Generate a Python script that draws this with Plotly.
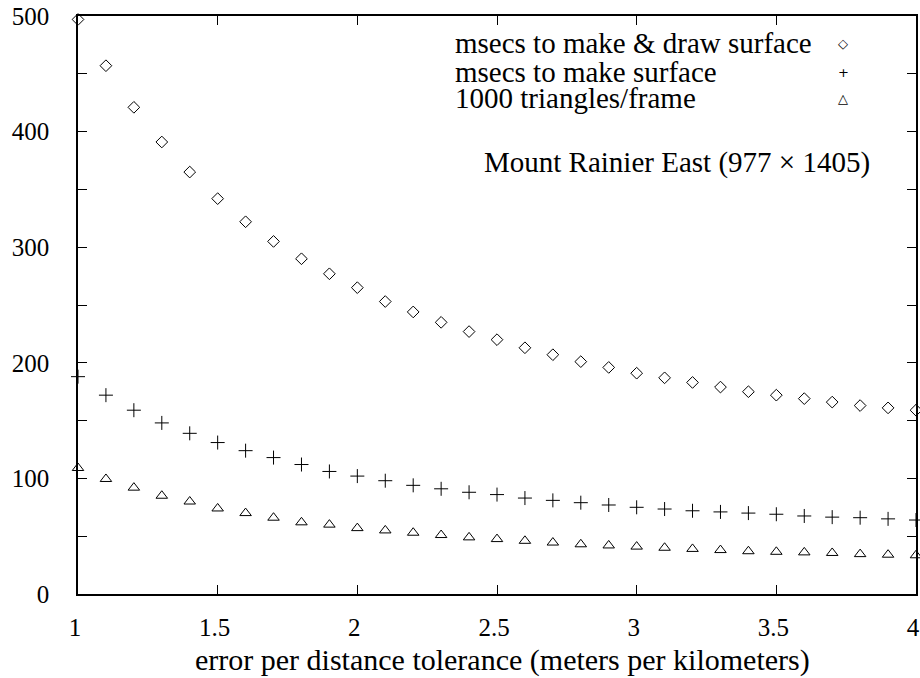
import plotly.graph_objects as go

x_vals = [round(1 + 0.1 * i, 1) for i in range(31)]

draw_surface = [497, 457, 421, 391, 365, 342, 322, 305, 290, 277, 265, 253, 244, 235, 227,
                220, 213, 207, 201, 196, 191, 187, 183, 179, 175, 172, 169, 166, 163, 161, 159]
make_surface = [188, 172, 159, 148, 139, 131, 124, 118, 112, 106, 102, 98, 94, 91, 88,
                86, 83, 81, 79, 77, 75, 73.5, 72, 71, 70, 69, 67.5, 66.5, 66, 65, 64]
triangles = [109, 99.5, 92, 85, 80, 74, 70, 66, 62, 60, 57, 55, 53, 51, 49,
             47.5, 46, 44.5, 43, 42, 41, 40, 39, 38, 37, 36.5, 36, 35.5, 34.5, 34, 33.5]

series_names = ["msecs to make & draw surface", "msecs to make surface", "1000 triangles/frame"]
series_symbols = ["diamond-open", "cross-thin-open", "triangle-up-open"]
legend_glyphs = ["◇", "+", "△"]
x_ticks = [1, 1.5, 2, 2.5, 3, 3.5, 4]
x_tick_labels = ["1", "1.5", "2", "2.5", "3", "3.5", "4"]
y_ticks = [0, 100, 200, 300, 400, 500]
y_tick_labels = ["0", "100", "200", "300", "400", "500"]

FONT = "Liberation Serif"
TICK_FS = 25
TEXT_FS = 29
TITLE_FS = 30

fig = go.Figure()
sizes = [9, 10, 10]
for name, ys, sym, sz in zip(series_names, [draw_surface, make_surface, triangles], series_symbols, sizes):
    fig.add_trace(go.Scatter(
        x=x_vals, y=ys, mode="markers", name=name, showlegend=False, cliponaxis=False,
        marker=dict(symbol=sym, size=sz, color="black", line=dict(color="black", width=1)),
    ))

legend_y = [0.953, 0.903, 0.858]
for name, glyph, yy in zip(series_names, legend_glyphs, legend_y):
    fig.add_annotation(text=name, xref="paper", yref="paper", x=0.4475, y=yy,
                       xanchor="left", yanchor="middle", showarrow=False,
                       font=dict(family=FONT, size=TEXT_FS, color="black"))
    fig.add_annotation(text=glyph, xref="paper", yref="paper", x=0.913, y=yy,
                       xanchor="center", yanchor="middle", showarrow=False,
                       font=dict(family="DejaVu Sans", size=13, color="black"))

fig.add_annotation(text="Mount Rainier East (977 × 1405)", xref="paper", yref="paper",
                   x=0.948, y=0.746, xanchor="right", yanchor="middle", showarrow=False,
                   font=dict(family=FONT, size=TEXT_FS, color="black"))

fig.add_annotation(text="error per distance tolerance (meters per kilometers)",
                   xref="paper", yref="paper", x=0.507, y=-0.114,
                   xanchor="center", yanchor="middle", showarrow=False,
                   font=dict(family=FONT, size=TITLE_FS, color="black"))

fig.update_layout(
    width=920, height=678,
    margin=dict(l=78, r=4, t=16, b=84, autoexpand=False),
    paper_bgcolor="white", plot_bgcolor="white",
    font=dict(family=FONT, size=TICK_FS, color="black"),
    showlegend=False,
)
fig.update_xaxes(
    range=[1, 4], tickvals=x_ticks, ticktext=x_tick_labels, automargin=False,
    showgrid=False, zeroline=False, showline=True, linecolor="black", linewidth=1.5,
    mirror="ticks", ticks="inside", ticklen=9, tickwidth=1.2, tickcolor="black",
    ticklabelstandoff=10, ticklabeloverflow="allow", ticklabelshift=-3,
)
fig.update_yaxes(
    range=[0, 500], tickvals=y_ticks, ticktext=y_tick_labels, automargin=False,
    showgrid=False, zeroline=False, showline=True, linecolor="black", linewidth=1.5,
    mirror="ticks", ticks="inside", ticklen=9, tickwidth=1.2, tickcolor="black",
    ticklabelstandoff=22, ticklabeloverflow="allow",
    minor=dict(dtick=50, ticks="inside", ticklen=9, tickwidth=1.2, tickcolor="black", showgrid=False),
)

fig.write_html("out.html", config={"displayModeBar": False},
               post_script="document.body.style.margin='0';document.body.style.overflow='hidden';")
